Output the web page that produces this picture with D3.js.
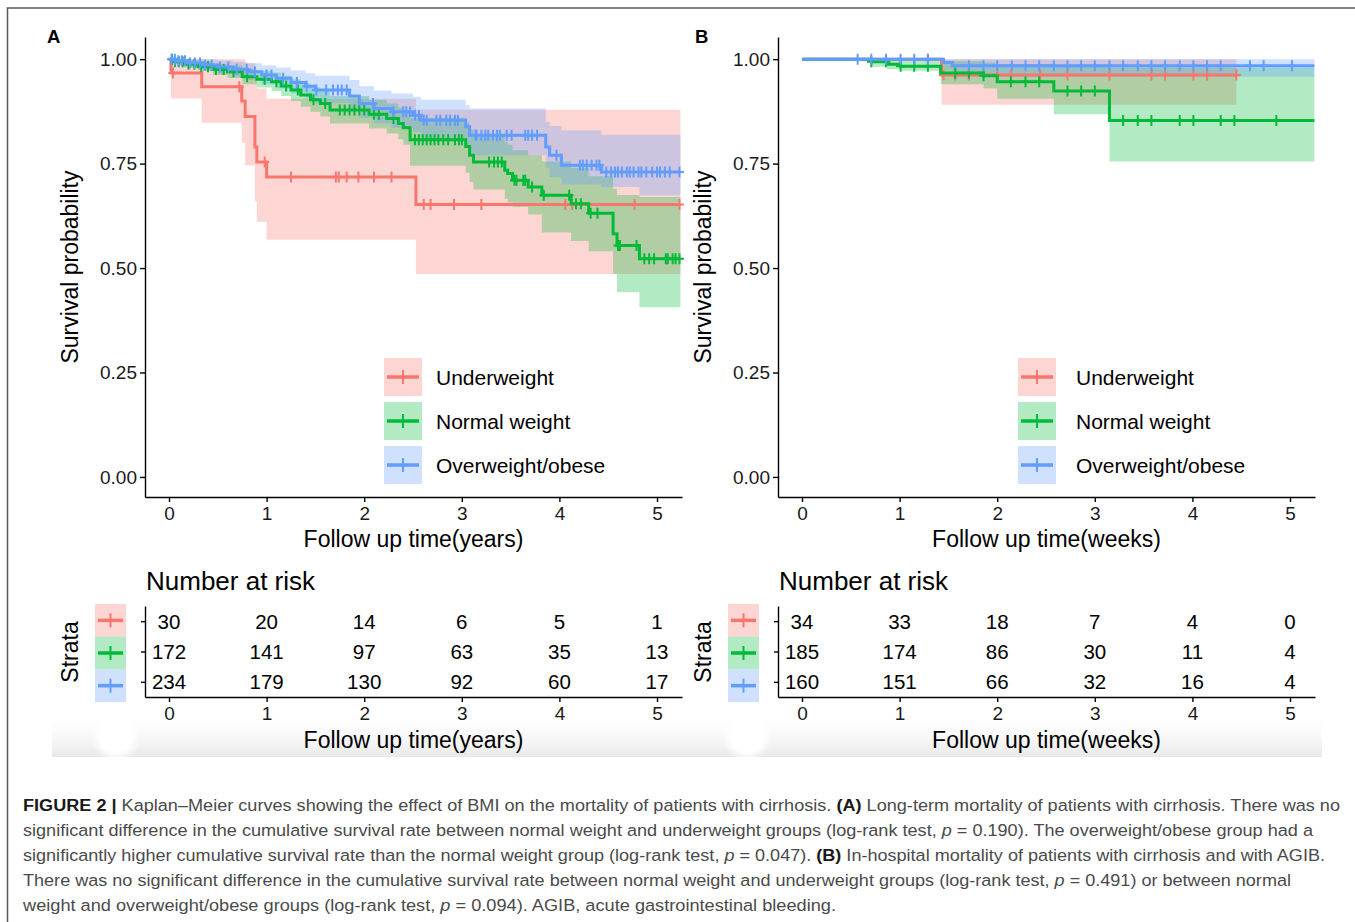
<!DOCTYPE html>
<html><head><meta charset="utf-8">
<script src="https://cdn.jsdelivr.net/npm/d3@7"></script>
<style>
body{margin:0;background:#fff;}
svg{display:block;}
text{font-family:"Liberation Sans",Arial,Helvetica,sans-serif;}
</style>
</head><body>
<svg id="c" width="1355" height="922"></svg>
<script>
// ---------------- DATA ----------------
const groups = ["Underweight", "Normal weight", "Overweight/obese"];
const colors = ["#F8766D", "#00BA38", "#619CFF"];
const xTicks = [0, 1, 2, 3, 4, 5];
const yTicks = [0, 0.25, 0.5, 0.75, 1];

// Panel A : long-term (years)
const A_under_time  = [0, 0.02, 0.335, 0.745, 0.78, 0.88, 0.90, 1.0, 2.53];
const A_under_surv  = [1, 0.967, 0.934, 0.90, 0.863, 0.79, 0.754, 0.718, 0.652];
const A_under_upper = [1, 1, 1, 1, 0.99, 0.95, 0.93, 0.905, 0.879];
const A_under_lower = [1, 0.906, 0.848, 0.80, 0.746, 0.66, 0.611, 0.568, 0.486];
const A_under_censor = [0.04, 0.72, 0.98, 1.25, 1.71, 1.74, 1.82, 1.94, 2.10, 2.28, 2.61, 2.68, 2.92, 3.20, 4.06, 4.13, 4.77, 5.23];
const A_under_end = 5.24;

const A_normal_time  = [0, 0.05, 0.15, 0.3, 0.45, 0.6, 0.75, 0.9, 1.05, 1.15, 1.25, 1.35, 1.45, 1.55, 1.65, 2.05, 2.23, 2.35, 2.4, 2.47, 3.04, 3.08, 3.12, 3.44, 3.47, 3.52, 3.68, 3.82, 4.12, 4.3, 4.55, 4.59, 4.82];
const A_normal_surv  = [1, 0.994, 0.988, 0.982, 0.975, 0.97, 0.958, 0.952, 0.946, 0.936, 0.926, 0.914, 0.903, 0.894, 0.878, 0.868, 0.858, 0.846, 0.836, 0.807, 0.791, 0.77, 0.754, 0.734, 0.726, 0.71, 0.694, 0.674, 0.654, 0.631, 0.582, 0.554, 0.522];
const A_normal_upper = [1, 1, 0.998, 0.993, 0.989, 0.985, 0.976, 0.972, 0.968, 0.96, 0.952, 0.942, 0.933, 0.925, 0.912, 0.902, 0.894, 0.884, 0.876, 0.86, 0.848, 0.832, 0.818, 0.802, 0.795, 0.782, 0.77, 0.755, 0.74, 0.72, 0.69, 0.675, 0.67];
const A_normal_lower = [1, 0.988, 0.98, 0.972, 0.962, 0.955, 0.94, 0.932, 0.924, 0.912, 0.9, 0.886, 0.874, 0.863, 0.846, 0.834, 0.822, 0.808, 0.795, 0.745, 0.728, 0.706, 0.688, 0.666, 0.657, 0.646, 0.628, 0.585, 0.565, 0.54, 0.486, 0.442, 0.406];
const A_normal_censor = [0.03, 0.06, 0.1, 0.14, 0.2, 0.26, 0.33, 0.4, 0.48, 0.56, 0.66, 0.8, 0.98, 1.1, 1.2, 1.32, 1.48, 1.6, 1.75, 1.8, 1.85, 1.9, 1.95, 2.0, 2.1, 2.15, 2.3, 2.52, 2.56, 2.6, 2.64, 2.68, 2.72, 2.76, 2.81, 2.86, 2.93, 2.97, 3.0, 3.28, 3.33, 3.37, 3.41, 3.54, 3.56, 3.63, 3.65, 3.72, 3.84, 4.1, 4.17, 4.22, 4.32, 4.39, 4.6, 4.62, 4.79, 4.87, 4.92, 4.97, 5.09, 5.11, 5.16, 5.19, 5.23];
const A_normal_end = 5.24;

const A_over_time  = [0, 0.08, 0.2, 0.35, 0.5, 0.65, 0.8, 0.95, 1.1, 1.25, 1.4, 1.5, 1.85, 1.95, 2.1, 2.28, 2.5, 2.58, 3.04, 3.08, 3.86, 3.9, 4.02, 4.43, 4.82];
const A_over_surv  = [1, 0.996, 0.991, 0.986, 0.981, 0.976, 0.97, 0.962, 0.954, 0.944, 0.935, 0.926, 0.912, 0.894, 0.882, 0.874, 0.866, 0.854, 0.838, 0.818, 0.79, 0.77, 0.746, 0.73, 0.73];
const A_over_upper = [1, 1, 1, 0.999, 0.997, 0.994, 0.99, 0.985, 0.98, 0.973, 0.966, 0.96, 0.95, 0.935, 0.925, 0.918, 0.91, 0.903, 0.89, 0.882, 0.85, 0.84, 0.83, 0.819, 0.819];
const A_over_lower = [1, 0.988, 0.98, 0.972, 0.965, 0.958, 0.95, 0.94, 0.93, 0.918, 0.906, 0.895, 0.88, 0.86, 0.846, 0.836, 0.826, 0.812, 0.79, 0.77, 0.74, 0.718, 0.70, 0.694, 0.674];
const A_over_censor = [0.027, 0.06, 0.096, 0.13, 0.164, 0.215, 0.266, 0.318, 0.369, 0.437, 0.522, 0.608, 0.693, 0.796, 0.88, 1.0, 1.05, 1.17, 1.31, 1.41, 1.51, 1.61, 1.68, 1.73, 1.77, 1.82, 2.09, 2.3, 2.4, 2.43, 2.47, 2.52, 2.56, 2.61, 2.64, 2.74, 2.78, 2.84, 2.88, 2.93, 2.96, 3.14, 3.15, 3.2, 3.24, 3.27, 3.32, 3.36, 3.39, 3.46, 3.51, 3.65, 3.68, 3.72, 3.77, 3.97, 4.21, 4.24, 4.28, 4.33, 4.38, 4.41, 4.48, 4.53, 4.57, 4.6, 4.64, 4.69, 4.72, 4.76, 4.81, 4.84, 4.89, 4.95, 5.0, 5.03, 5.08, 5.13, 5.23];
const A_over_end = 5.24;

const A_risk_under  = [30, 20, 14, 6, 5, 1];
const A_risk_normal = [172, 141, 97, 63, 35, 13];
const A_risk_over   = [234, 179, 130, 92, 60, 17];

// Panel B : in-hospital (weeks)
const B_under_time  = [0, 1.43];
const B_under_surv  = [1, 0.962];
const B_under_upper = [1, 1];
const B_under_lower = [1, 0.891];
const B_under_censor = [1.29, 1.45, 1.57, 1.71, 2.0, 2.14, 2.44, 2.72, 3.15, 3.58, 3.72, 4.01, 4.15, 4.45];
const B_under_end = 4.45;

const B_normal_time  = [0, 0.71, 0.87, 1.01, 1.42, 1.86, 2.0, 2.58, 3.15];
const B_normal_surv  = [1, 0.994, 0.988, 0.983, 0.967, 0.96, 0.946, 0.924, 0.853];
const B_normal_upper = [1, 1, 1, 1, 0.995, 0.992, 0.988, 0.985, 0.98];
const B_normal_lower = [1, 0.982, 0.976, 0.972, 0.94, 0.93, 0.905, 0.868, 0.755];
const B_normal_censor = [0.71, 0.86, 1.01, 1.15, 1.29, 1.57, 1.71, 1.86, 2.14, 2.29, 2.43, 2.72, 2.86, 3.0, 3.29, 3.44, 3.58, 3.87, 4.01, 4.29, 4.43, 4.86];
const B_normal_end = 5.25;

const B_over_time  = [0, 1.45, 1.54];
const B_over_surv  = [1, 0.992, 0.984];
const B_over_upper = [1, 1, 1];
const B_over_lower = [1, 0.975, 0.958];
const B_over_censor = [0.57, 0.71, 0.86, 1.01, 1.15, 1.29, 1.71, 1.86, 2.0, 2.15, 2.29, 2.43, 2.58, 2.72, 2.86, 3.0, 3.15, 3.29, 3.44, 3.58, 3.72, 3.87, 4.01, 4.15, 4.29, 4.59, 4.73, 5.02];
const B_over_end = 5.25;

const B_risk_under  = [34, 33, 18, 7, 4, 0];
const B_risk_normal = [185, 174, 86, 30, 11, 4];
const B_risk_over   = [160, 151, 66, 32, 16, 4];

// ---------------- BUILD ----------------
function series(time, surv, upper, lower, censor, end) {
  return {time, surv, upper, lower, censor, end};
}
const panels = [
  {
    label: "A", xTitle: "Follow up time(years)",
    xRange: [145, 682], labelX: 47, yTitleX: 78, legendX: 384, legendTextX: 436, boxX: 95,
    series: [
      series(A_under_time, A_under_surv, A_under_upper, A_under_lower, A_under_censor, A_under_end),
      series(A_normal_time, A_normal_surv, A_normal_upper, A_normal_lower, A_normal_censor, A_normal_end),
      series(A_over_time, A_over_surv, A_over_upper, A_over_lower, A_over_censor, A_over_end)
    ],
    risk: [A_risk_under, A_risk_normal, A_risk_over]
  },
  {
    label: "B", xTitle: "Follow up time(weeks)",
    xRange: [778, 1315], labelX: 695, yTitleX: 711, legendX: 1018, legendTextX: 1076, boxX: 728,
    series: [
      series(B_under_time, B_under_surv, B_under_upper, B_under_lower, B_under_censor, B_under_end),
      series(B_normal_time, B_normal_surv, B_normal_upper, B_normal_lower, B_normal_censor, B_normal_end),
      series(B_over_time, B_over_surv, B_over_upper, B_over_lower, B_over_censor, B_over_end)
    ],
    risk: [B_risk_under, B_risk_normal, B_risk_over]
  }
];

const svg = d3.select("#c");
const defs = svg.append("defs");
const grad = defs.append("linearGradient").attr("id", "band").attr("x1", 0).attr("y1", 0).attr("x2", 0).attr("y2", 1);
grad.append("stop").attr("offset", "0").attr("stop-color", "#ffffff").attr("stop-opacity", 0);
grad.append("stop").attr("offset", "1").attr("stop-color", "#e8e8e8").attr("stop-opacity", 1);
const rg = defs.append("radialGradient").attr("id", "blob");
rg.append("stop").attr("offset", "0.6").attr("stop-color", "#fff").attr("stop-opacity", 1);
rg.append("stop").attr("offset", "1").attr("stop-color", "#fff").attr("stop-opacity", 0);

// background band under risk tables
svg.append("rect").attr("x", 52).attr("y", 712).attr("width", 1270).attr("height", 45).attr("fill", "url(#band)");
[116, 747].forEach(cx => svg.append("circle").attr("cx", cx).attr("cy", 737).attr("r", 25).attr("fill", "url(#blob)"));

// frame
svg.append("path").attr("d", "M7.5,922V8H1355").attr("fill", "none").attr("stroke", "#5a5a5a").attr("stroke-width", 1.5);

const yScale = d3.scaleLinear().domain([-0.048, 1.053]).range([497, 37]);
const X_DOMAIN = [-0.246, 5.256];
const AX = "#000";

function survAt(s, t) {
  let v = s.surv[0];
  for (let i = 0; i < s.time.length; i++) if (s.time[i] <= t) v = s.surv[i];
  return v;
}
function styleAxis(g, fs) {
  g.select(".domain").attr("stroke", AX).attr("stroke-width", 1.4);
  g.selectAll(".tick line").attr("stroke", AX).attr("stroke-width", 1.4);
  g.selectAll(".tick text").attr("fill", "#1a1a1a").style("font-size", fs + "px").style("font-family", "'Liberation Sans',Arial,sans-serif");
}

panels.forEach(p => {
  const x = d3.scaleLinear().domain(X_DOMAIN).range(p.xRange);
  const y = yScale;
  const g = svg.append("g");
  const cx = (p.xRange[0] + p.xRange[1]) / 2;

  // panel letter
  g.append("text").attr("x", p.labelX).attr("y", 42.5).text(p.label)
    .style("font-size", "18.5px").style("font-weight", "bold").attr("fill", "#000");

  // ribbons
  const area = d3.area().curve(d3.curveStepAfter).x(d => x(d[0])).y0(d => y(d[1])).y1(d => y(d[2]));
  const line = d3.line().curve(d3.curveStepAfter).x(d => x(d[0])).y(d => y(d[1]));
  p.series.forEach((s, i) => {
    const pts = s.time.map((t, k) => [t, s.lower[k], s.upper[k]]);
    pts.push([s.end, s.lower[s.lower.length - 1], s.upper[s.upper.length - 1]]);
    g.append("path").attr("d", area(pts)).attr("fill", colors[i]).attr("fill-opacity", 0.3);
  });
  p.series.forEach((s, i) => {
    const pts = s.time.map((t, k) => [t, s.surv[k]]);
    pts.push([s.end, s.surv[s.surv.length - 1]]);
    g.append("path").attr("d", line(pts)).attr("fill", "none").attr("stroke", colors[i]).attr("stroke-width", 3);
    s.censor.forEach(t => {
      const px = x(t), py = y(survAt(s, t));
      g.append("path").attr("d", `M${px},${py - 5.5}V${py + 5.5}M${px - 4.5},${py}H${px + 4.5}`)
        .attr("stroke", colors[i]).attr("stroke-width", 2).attr("fill", "none");
    });
  });

  // axes
  const gy = g.append("g").attr("transform", `translate(${p.xRange[0]},0)`)
    .call(d3.axisLeft(y).tickValues(yTicks).tickFormat(d3.format(".2f")).tickSize(5).tickSizeOuter(0).tickPadding(3));
  styleAxis(gy, 19);
  const gx = g.append("g").attr("transform", `translate(0,497)`)
    .call(d3.axisBottom(x).tickValues(xTicks).tickFormat(d3.format("d")).tickSize(5).tickSizeOuter(0).tickPadding(5));
  styleAxis(gx, 19);

  g.append("text").attr("x", cx).attr("y", 547).attr("text-anchor", "middle").text(p.xTitle)
    .style("font-size", "23px").attr("fill", "#000");
  g.append("text").attr("transform", `translate(${p.yTitleX},267) rotate(-90)`).attr("text-anchor", "middle")
    .text("Survival probability").style("font-size", "23px").attr("fill", "#000");

  // legend
  const ly = d3.scalePoint().domain(groups).range([377, 465]);
  groups.forEach((gname, i) => {
    const yc = ly(gname);
    g.append("rect").attr("x", p.legendX).attr("y", yc - 19).attr("width", 38).attr("height", 38)
      .attr("fill", colors[i]).attr("fill-opacity", 0.3);
    g.append("path").attr("d", `M${p.legendX + 3},${yc}H${p.legendX + 35}`).attr("stroke", colors[i]).attr("stroke-width", 3.5);
    g.append("path").attr("d", `M${p.legendX + 19},${yc - 7}V${yc + 7}`).attr("stroke", colors[i]).attr("stroke-width", 2);
    g.append("text").attr("x", p.legendTextX).attr("y", yc + 8).text(gname).style("font-size", "21px").attr("fill", "#000");
  });

  // risk table
  g.append("text").attr("x", p.xRange[0] + 1).attr("y", 590).text("Number at risk").style("font-size", "26px").attr("fill", "#000");
  const ry = d3.scalePoint().domain(groups).range([606, 697]).padding(0.5);
  groups.forEach((gname, i) => {
    p.risk[i].forEach((n, k) => {
      g.append("text").attr("x", x(xTicks[k])).attr("y", ry(gname) + 7.5).attr("text-anchor", "middle")
        .text(n).style("font-size", "20.5px").attr("fill", "#000");
    });
  });
  const gry = g.append("g").attr("transform", `translate(${p.xRange[0]},0)`)
    .call(d3.axisLeft(ry).tickSize(4).tickSizeOuter(0).tickFormat(""));
  styleAxis(gry, 19);
  const grx = g.append("g").attr("transform", `translate(0,697)`)
    .call(d3.axisBottom(x).tickValues(xTicks).tickFormat(d3.format("d")).tickSize(5).tickSizeOuter(0).tickPadding(5));
  styleAxis(grx, 19);
  g.append("text").attr("x", cx).attr("y", 748).attr("text-anchor", "middle").text(p.xTitle)
    .style("font-size", "23px").attr("fill", "#000");
  g.append("text").attr("transform", `translate(${p.yTitleX},652) rotate(-90)`).attr("text-anchor", "middle")
    .text("Strata").style("font-size", "23px").attr("fill", "#000");
  const by = d3.scalePoint().domain(groups).range([604, 702]).padding(0.5);
  const bh = by.step();
  groups.forEach((gname, i) => {
    const yc = by(gname);
    g.append("rect").attr("x", p.boxX).attr("y", yc - bh / 2).attr("width", 31).attr("height", bh)
      .attr("fill", colors[i]).attr("fill-opacity", 0.3);
    g.append("path").attr("d", `M${p.boxX + 3},${yc}H${p.boxX + 28}`).attr("stroke", colors[i]).attr("stroke-width", 3.5);
    g.append("path").attr("d", `M${p.boxX + 15.5},${yc - 7}V${yc + 7}`).attr("stroke", colors[i]).attr("stroke-width", 2);
  });
});

// ---------------- CAPTION ----------------
const captionLines = [
  [["FIGURE 2 |", "b"], [" Kaplan–Meier curves showing the effect of BMI on the mortality of patients with cirrhosis. ", "n"], ["(A)", "b"], [" Long-term mortality of patients with cirrhosis. There was no", "n"]],
  [["significant difference in the cumulative survival rate between normal weight and underweight groups (log-rank test, ", "n"], ["p", "i"], [" = 0.190). The overweight/obese group had a", "n"]],
  [["significantly higher cumulative survival rate than the normal weight group (log-rank test, ", "n"], ["p", "i"], [" = 0.047). ", "n"], ["(B)", "b"], [" In-hospital mortality of patients with cirrhosis and with AGIB.", "n"]],
  [["There was no significant difference in the cumulative survival rate between normal weight and underweight groups (log-rank test, ", "n"], ["p", "i"], [" = 0.491) or between normal", "n"]],
  [["weight and overweight/obese groups (log-rank test, ", "n"], ["p", "i"], [" = 0.094). AGIB, acute gastrointestinal bleeding.", "n"]]
];
const captionWidths = [1317, 1290, 1302, 1268, 813];
captionLines.forEach((parts, li) => {
  const t = svg.append("text").attr("x", 23).attr("y", 811 + li * 25)
    .attr("textLength", captionWidths[li]).attr("lengthAdjust", "spacingAndGlyphs")
    .style("font-size", "17.4px").style("white-space", "pre").attr("fill", "#4a4a4a");
  parts.forEach(([s, k]) => {
    const ts = t.append("tspan").text(s);
    if (k === "b") ts.style("font-weight", "bold").attr("fill", "#1a1a1a");
    if (k === "i") ts.style("font-style", "italic");
  });
});
</script>
</body></html>
